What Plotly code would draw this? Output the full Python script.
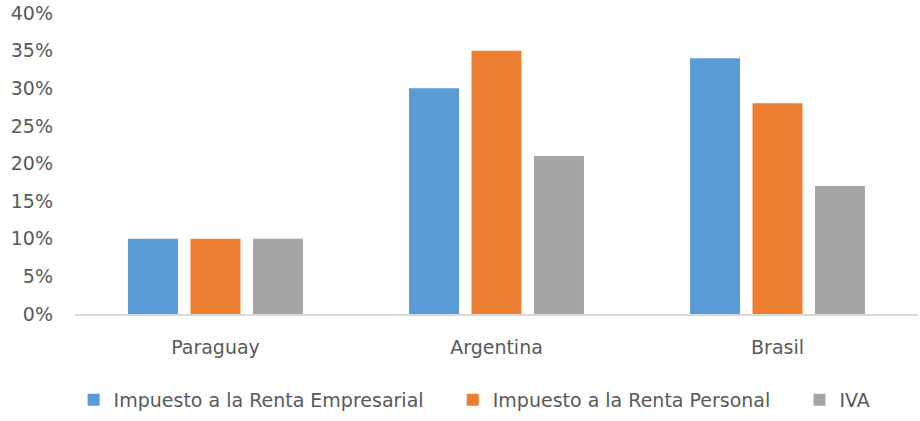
import plotly.graph_objects as go

categories = ["Paraguay", "Argentina", "Brasil"]
empresarial = [0.10, 0.30, 0.34]
personal = [0.10, 0.35, 0.28]
iva = [0.10, 0.21, 0.17]
series_names = ["Impuesto a la Renta Empresarial", "Impuesto a la Renta Personal", "IVA"]
colors = ["#5B9BD5", "#ED7D31", "#A5A5A5"]
tick_vals = [0, 0.05, 0.10, 0.15, 0.20, 0.25, 0.30, 0.35, 0.40]

# trailing non-breaking spaces widen the gap between legend entries
legend_pad = ["\u00a0" * 4, "\u00a0" * 4, ""]

fig = go.Figure()
for name, pad, vals, c in zip(series_names, legend_pad, [empresarial, personal, iva], colors):
    fig.add_trace(go.Bar(x=categories, y=vals, name=name + pad, marker_color=c,
                         marker_line_width=0, hoverinfo="skip"))

font_family = "DejaVu Sans"
fs = 19
fig.update_layout(
    width=920, height=421,
    margin=dict(l=75, r=2, t=13, b=99),
    paper_bgcolor="white", plot_bgcolor="white",
    barmode="group", bargap=0.333, bargroupgap=0.2,
    font=dict(family=font_family, size=fs, color="#595959"),
    showlegend=True,
    legend=dict(orientation="h", x=0.474, xanchor="center", y=-0.285, yanchor="middle",
                font=dict(size=fs, color="#595959"), itemwidth=30,
                traceorder="normal"),
    xaxis=dict(showline=True, linecolor="#D9D9D9", linewidth=1.5, automargin=False,
               ticks="", tickfont=dict(size=fs, color="#595959"),
               ticklabelstandoff=15, fixedrange=True),
    yaxis=dict(range=[0, 0.40], tickvals=tick_vals, tickformat=".0%", automargin=False,
               showgrid=False, zeroline=False, showline=False, ticklabeloverflow="allow",
               tickfont=dict(size=fs, color="#595959"), ticklabelstandoff=21,
               fixedrange=True),
)
# remove the browser's default 8px page margin so the figure fills the window
fig.write_html("out.html", config={"displayModeBar": False},
               post_script="document.body.style.margin='0';")
